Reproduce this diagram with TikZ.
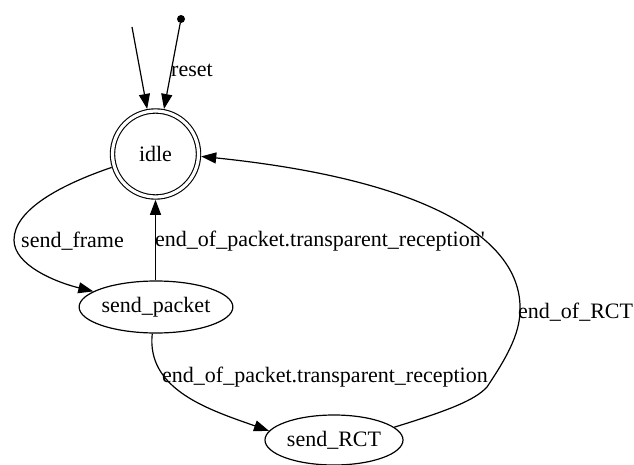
\documentclass[tikz,border=0pt]{standalone}
\usepackage{fontspec}
\setmainfont{Liberation Serif}
\usetikzlibrary{shapes.geometric,arrows.meta}
\begin{document}
\begin{tikzpicture}[x=1pt,y=-1pt,
  every node/.style={font=\fontsize{22}{24}\selectfont},
  edge/.style={line width=1.2pt,-{Triangle[length=15pt,width=11pt]}},
  statenode/.style={ellipse,draw,line width=1.2pt,minimum width=152pt,minimum height=52pt,inner sep=0pt},
  lbl/.style={inner sep=0pt,anchor=west}]
\useasboundingbox (0,0) rectangle (634,465);
\node[circle,draw,double,line width=1.1pt,double distance=3.2pt,minimum size=86pt,inner sep=0pt,outer sep=2.8pt] (idle) at (155.5,154) {idle};
\node[statenode] (sp) at (156,307) {send\_packet};
\node[statenode,minimum width=138pt,minimum height=50pt] (rct) at (334,440) {send\_RCT};
\node[circle,fill,inner sep=0pt,minimum size=8pt] (dot) at (181,19) {};
\coordinate (st) at (132,27);
\draw[edge] (st) -- (idle);
\draw[edge] (dot) -- (idle);
\node[lbl] (lreset) at (171,70) {reset};
\draw[edge] (idle.197) .. controls (60,185) and (14,210) .. (14,240) .. controls (14,265) and (55,282) .. (sp.166);
\node[lbl] (lsf) at (21,241) {send\_frame};
\draw[edge] (sp.north -| idle.south) -- (idle.south);
\node[lbl] (lep1) at (155,241) {end\_of\_packet.transparent\_reception\textquotesingle};
\draw[edge] (sp.262) .. controls (146,390) and (210,410) .. (rct.172);
\node[lbl] (lep2) at (162,377) {end\_of\_packet.transparent\_reception};
\draw[edge] (rct.12) .. controls (450,410) and (475,400) .. (487,387) .. controls (505,360) and (520,335) .. (520,310) .. controls (522,240) and (430,180) .. (idle.357);
\node[lbl] (lrct) at (518,312) {end\_of\_RCT};
\end{tikzpicture}
\end{document}
